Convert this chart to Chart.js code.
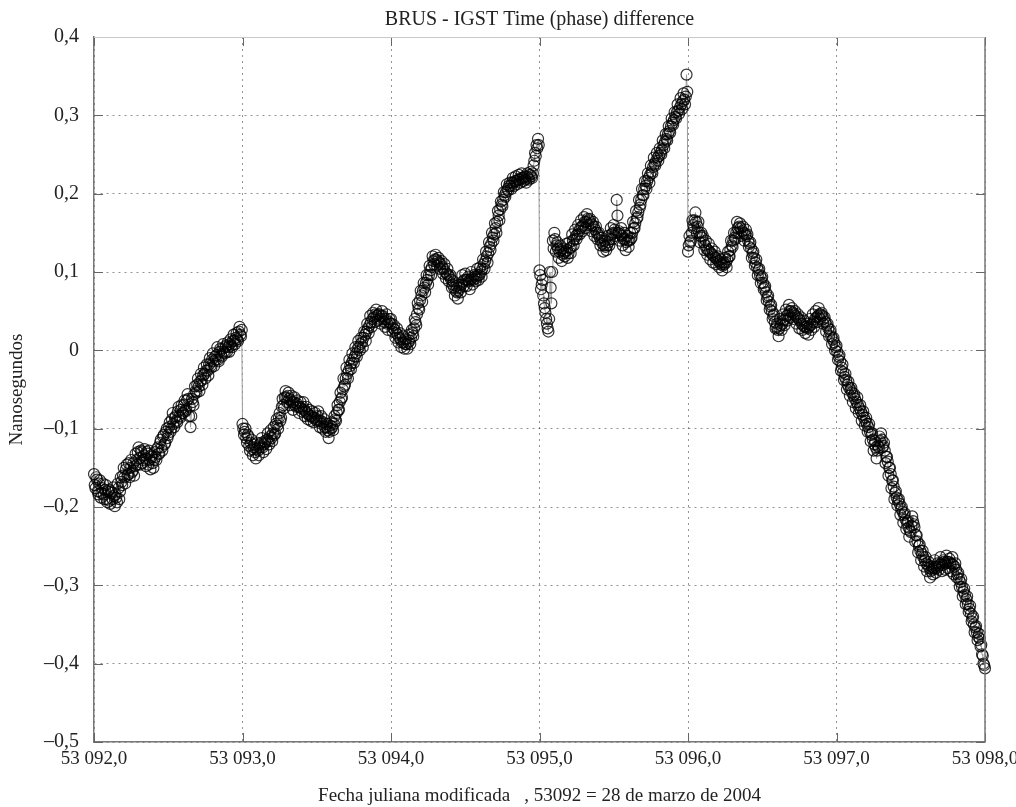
<!DOCTYPE html>
<html>
<head>
<meta charset="utf-8">
<script src="https://cdn.jsdelivr.net/npm/chart.js@4/dist/chart.umd.min.js"></script>
<style>
  html, body { margin: 0; padding: 0; background: #ffffff; }
  #wrap { width: 1016px; height: 807px; }
</style>
</head>
<body>
<div id="wrap"><canvas id="c" width="1016" height="807"></canvas></div>
<script>
// ---- Data ----
const sampleStep = 0.01;      // days between samples of one set
const halfStepOffset = 0.005; // second set of samples, between the first ones
const dayStarts = [53092, 53093, 53094, 53095, 53096, 53097];

// samples at start + i*step
const day53092 = [
  -0.158,-0.176,-0.165,-0.184,-0.166,-0.182,-0.170,-0.190,-0.172,-0.194,
  -0.178,-0.196,-0.182,-0.175,-0.199,-0.188,-0.170,-0.190,-0.162,-0.172,
  -0.150,-0.170,-0.146,-0.158,-0.162,-0.140,-0.154,-0.160,-0.132,-0.146,
  -0.124,-0.146,-0.130,-0.140,-0.126,-0.148,-0.132,-0.128,-0.152,-0.136,
  -0.150,-0.130,-0.140,-0.124,-0.132,-0.114,-0.128,-0.108,-0.118,-0.100,
  -0.108,-0.092,-0.100,-0.080,-0.098,-0.084,-0.092,-0.072,-0.086,-0.070,
  -0.080,-0.064,-0.076,-0.056,-0.084,-0.098,-0.062,-0.070,-0.046,-0.054,
  -0.036,-0.052,-0.030,-0.044,-0.022,-0.036,-0.018,-0.032,-0.010,-0.022,
  -0.004,-0.020,-0.012,0.004,-0.014,0.002,-0.008,0.008,-0.004,0.006,
  0.010,-0.002,0.014,0.004,0.020,0.008,0.022,0.012,0.030,0.018
];
const day53093 = [
  -0.094,-0.108,-0.100,-0.118,-0.110,-0.128,-0.114,-0.134,-0.120,-0.138,
  -0.118,-0.134,-0.124,-0.112,-0.130,-0.116,-0.126,-0.106,-0.120,-0.102,
  -0.116,-0.098,-0.106,-0.088,-0.100,-0.080,-0.086,-0.062,-0.074,-0.052,
  -0.066,-0.054,-0.070,-0.058,-0.076,-0.060,-0.072,-0.064,-0.080,-0.066,
  -0.078,-0.066,-0.084,-0.072,-0.088,-0.076,-0.090,-0.078,-0.092,-0.080,
  -0.090,-0.078,-0.098,-0.084,-0.100,-0.088,-0.104,-0.094,-0.112,-0.096,
  -0.092,-0.102,-0.084,-0.090,-0.070,-0.076,-0.054,-0.060,-0.036,-0.044,
  -0.022,-0.036,-0.012,-0.024,-0.004,-0.016,0.004,-0.008,0.012,0.000,
  0.016,0.004,0.024,0.012,0.034,0.022,0.044,0.030,0.048,0.036,
  0.052,0.038,0.046,0.034,0.050,0.040,0.030,0.046,0.026,0.040
];
const day53094 = [
  0.040,0.024,0.032,0.016,0.028,0.010,0.022,0.004,0.018,0.002,
  0.014,0.002,0.020,0.008,0.026,0.018,0.040,0.032,0.060,0.052,
  0.076,0.062,0.086,0.074,0.096,0.084,0.108,0.096,0.120,0.110,
  0.122,0.108,0.118,0.104,0.114,0.098,0.110,0.092,0.104,0.088,
  0.096,0.080,0.088,0.070,0.082,0.066,0.084,0.074,0.096,0.082,
  0.098,0.082,0.094,0.078,0.100,0.084,0.096,0.088,0.104,0.090,
  0.106,0.094,0.116,0.104,0.126,0.112,0.138,0.128,0.150,0.140,
  0.162,0.150,0.178,0.166,0.190,0.184,0.202,0.196,0.212,0.204,
  0.214,0.206,0.220,0.210,0.222,0.212,0.224,0.214,0.226,0.216,
  0.222,0.214,0.226,0.218,0.228,0.220,0.236,0.252,0.262,0.270
];
const day53095 = [
  0.102,0.078,0.090,0.060,0.048,0.034,0.024,0.100,0.060,0.140,
  0.150,0.126,0.138,0.118,0.134,0.114,0.130,0.120,0.136,0.118,
  0.138,0.124,0.148,0.134,0.154,0.142,0.160,0.148,0.166,0.152,
  0.170,0.156,0.174,0.160,0.168,0.152,0.164,0.146,0.158,0.142,
  0.150,0.134,0.144,0.126,0.140,0.128,0.146,0.134,0.156,0.142,
  0.160,0.146,0.192,0.150,0.140,0.156,0.134,0.150,0.128,0.146,
  0.132,0.150,0.144,0.164,0.156,0.178,0.170,0.192,0.186,0.206,
  0.198,0.216,0.206,0.226,0.214,0.236,0.226,0.246,0.236,0.252,
  0.242,0.258,0.250,0.268,0.258,0.276,0.268,0.286,0.278,0.296,
  0.288,0.304,0.296,0.314,0.302,0.322,0.308,0.328,0.314,0.352
];
const day53096 = [
  0.126,0.146,0.140,0.166,0.156,0.176,0.150,0.164,0.138,0.150,
  0.146,0.128,0.140,0.122,0.136,0.116,0.130,0.112,0.126,0.110,
  0.120,0.106,0.116,0.102,0.112,0.118,0.106,0.126,0.120,0.140,
  0.132,0.150,0.142,0.164,0.150,0.162,0.146,0.158,0.140,0.154,
  0.148,0.132,0.138,0.118,0.126,0.108,0.116,0.096,0.104,0.086,
  0.094,0.078,0.082,0.064,0.070,0.052,0.058,0.040,0.046,0.028,
  0.034,0.018,0.040,0.026,0.046,0.032,0.052,0.038,0.058,0.042,
  0.054,0.040,0.050,0.034,0.046,0.028,0.042,0.026,0.038,0.022,
  0.034,0.020,0.040,0.026,0.046,0.030,0.050,0.036,0.054,0.040,
  0.048,0.034,0.042,0.024,0.034,0.018,0.026,0.008,0.016,0.000
];
const day53097 = [
  0.006,-0.012,-0.006,-0.026,-0.018,-0.038,-0.030,-0.050,-0.040,-0.058,
  -0.048,-0.066,-0.056,-0.074,-0.060,-0.080,-0.070,-0.090,-0.078,-0.096,
  -0.086,-0.104,-0.094,-0.116,-0.106,-0.128,-0.116,-0.138,-0.122,-0.110,
  -0.106,-0.124,-0.118,-0.144,-0.136,-0.160,-0.150,-0.176,-0.166,-0.190,
  -0.180,-0.198,-0.190,-0.210,-0.200,-0.220,-0.208,-0.228,-0.218,-0.238,
  -0.232,-0.212,-0.222,-0.244,-0.236,-0.258,-0.248,-0.268,-0.256,-0.276,
  -0.264,-0.282,-0.270,-0.290,-0.276,-0.286,-0.268,-0.284,-0.272,-0.280,
  -0.264,-0.282,-0.268,-0.280,-0.262,-0.278,-0.266,-0.282,-0.264,-0.286,
  -0.272,-0.290,-0.284,-0.302,-0.292,-0.314,-0.304,-0.324,-0.314,-0.334,
  -0.326,-0.346,-0.340,-0.360,-0.352,-0.370,-0.362,-0.378,-0.388,-0.400,
  -0.406
];

// samples at start + i*step + halfStepOffset
const mid53092 = [
  -0.172,-0.162,-0.180,-0.170,-0.188,-0.176,-0.184,-0.178,-0.190,-0.180,
  -0.192,-0.180,-0.190,-0.186,-0.184,-0.194,-0.176,-0.180,-0.168,-0.160,
  -0.162,-0.152,-0.160,-0.144,-0.150,-0.156,-0.144,-0.148,-0.140,-0.130,
  -0.138,-0.128,-0.144,-0.134,-0.138,-0.130,-0.146,-0.140,-0.134,-0.144,
  -0.140,-0.136,-0.126,-0.132,-0.118,-0.124,-0.110,-0.120,-0.104,-0.112,
  -0.098,-0.104,-0.088,-0.094,-0.086,-0.090,-0.078,-0.084,-0.076,-0.080,
  -0.070,-0.078,-0.064,-0.062,-0.072,-0.084,-0.066,-0.056,-0.052,-0.044,
  -0.046,-0.040,-0.038,-0.032,-0.030,-0.026,-0.026,-0.018,-0.020,-0.012,
  -0.014,-0.008,-0.006,-0.012,-0.002,-0.006,0.002,-0.002,0.004,-0.002,
  0.004,0.008,0.006,0.012,0.012,0.016,0.014,0.024,0.020,0.026
];
const mid53093 = [
  -0.100,-0.104,-0.112,-0.108,-0.122,-0.118,-0.126,-0.124,-0.130,-0.126,
  -0.128,-0.120,-0.118,-0.124,-0.120,-0.118,-0.114,-0.116,-0.110,-0.112,
  -0.106,-0.108,-0.094,-0.096,-0.086,-0.090,-0.072,-0.070,-0.060,-0.060,
  -0.058,-0.062,-0.064,-0.066,-0.066,-0.070,-0.068,-0.072,-0.072,-0.074,
  -0.072,-0.076,-0.078,-0.080,-0.082,-0.084,-0.084,-0.086,-0.086,-0.088,
  -0.084,-0.090,-0.090,-0.094,-0.092,-0.098,-0.098,-0.102,-0.104,-0.100,
  -0.098,-0.094,-0.088,-0.080,-0.076,-0.066,-0.062,-0.050,-0.046,-0.036,
  -0.030,-0.026,-0.020,-0.016,-0.012,-0.008,-0.004,0.002,0.004,0.008,
  0.010,0.016,0.020,0.024,0.028,0.032,0.036,0.040,0.042,0.046,
  0.044,0.046,0.040,0.044,0.044,0.036,0.040,0.034,0.036,0.034
];
const mid53094 = [
  0.034,0.028,0.026,0.022,0.020,0.016,0.014,0.010,0.010,0.008,
  0.008,0.010,0.012,0.016,0.022,0.028,0.036,0.046,0.054,0.064,
  0.070,0.076,0.080,0.086,0.090,0.096,0.102,0.106,0.114,0.116,
  0.116,0.114,0.112,0.110,0.106,0.104,0.100,0.098,0.096,0.094,
  0.090,0.084,0.080,0.076,0.074,0.076,0.080,0.084,0.088,0.090,
  0.090,0.090,0.088,0.090,0.092,0.090,0.094,0.092,0.096,0.096,
  0.100,0.104,0.110,0.114,0.120,0.124,0.132,0.136,0.144,0.148,
  0.156,0.164,0.172,0.180,0.186,0.192,0.198,0.202,0.206,0.210,
  0.210,0.214,0.214,0.216,0.216,0.218,0.218,0.220,0.220,0.220,
  0.218,0.222,0.220,0.224,0.222,0.226,0.242,0.248,0.258,0.262
];
const mid53095 = [
  0.096,0.084,0.070,0.054,0.040,0.028,0.040,0.080,0.100,0.130,
  0.142,0.134,0.130,0.126,0.128,0.122,0.124,0.126,0.128,0.124,
  0.130,0.132,0.140,0.142,0.146,0.148,0.152,0.156,0.158,0.160,
  0.164,0.164,0.168,0.166,0.162,0.160,0.158,0.154,0.150,0.148,
  0.144,0.140,0.136,0.134,0.132,0.134,0.138,0.142,0.148,0.150,
  0.154,0.150,0.172,0.152,0.148,0.146,0.142,0.142,0.138,0.140,
  0.140,0.142,0.150,0.156,0.162,0.168,0.176,0.182,0.192,0.198,
  0.206,0.210,0.216,0.220,0.224,0.228,0.234,0.238,0.242,0.246,
  0.248,0.252,0.256,0.262,0.266,0.270,0.276,0.280,0.286,0.290,
  0.294,0.298,0.304,0.306,0.310,0.314,0.318,0.320,0.324,0.330
];
const mid53096 = [
  0.134,0.138,0.150,0.160,0.166,0.164,0.158,0.150,0.146,0.144,
  0.138,0.134,0.130,0.128,0.126,0.124,0.122,0.120,0.118,0.116,
  0.114,0.112,0.110,0.108,0.110,0.112,0.116,0.120,0.128,0.134,
  0.140,0.144,0.150,0.156,0.158,0.156,0.152,0.150,0.148,0.146,
  0.140,0.136,0.130,0.124,0.118,0.112,0.106,0.102,0.096,0.092,
  0.086,0.080,0.074,0.068,0.062,0.056,0.050,0.044,0.036,0.030,
  0.026,0.028,0.032,0.034,0.038,0.040,0.044,0.046,0.050,0.050,
  0.048,0.046,0.044,0.042,0.040,0.038,0.034,0.032,0.030,0.030,
  0.028,0.030,0.032,0.034,0.036,0.040,0.042,0.044,0.046,0.046,
  0.044,0.040,0.036,0.032,0.028,0.024,0.018,0.014,0.010,0.004
];
const mid53097 = [
  -0.002,-0.008,-0.014,-0.022,-0.028,-0.034,-0.038,-0.044,-0.048,-0.050,
  -0.054,-0.058,-0.062,-0.066,-0.070,-0.074,-0.078,-0.082,-0.086,-0.090,
  -0.094,-0.098,-0.104,-0.108,-0.114,-0.120,-0.124,-0.128,-0.124,-0.116,
  -0.114,-0.122,-0.128,-0.136,-0.142,-0.150,-0.158,-0.166,-0.174,-0.182,
  -0.188,-0.192,-0.196,-0.202,-0.206,-0.210,-0.216,-0.220,-0.226,-0.230,
  -0.224,-0.218,-0.226,-0.236,-0.244,-0.250,-0.256,-0.260,-0.264,-0.268,
  -0.272,-0.274,-0.278,-0.282,-0.280,-0.278,-0.276,-0.278,-0.276,-0.274,
  -0.272,-0.274,-0.270,-0.272,-0.270,-0.270,-0.272,-0.272,-0.274,-0.276,
  -0.280,-0.286,-0.292,-0.296,-0.302,-0.308,-0.312,-0.318,-0.324,-0.330,
  -0.336,-0.342,-0.350,-0.354,-0.360,-0.366,-0.368,-0.376,-0.390,-0.402
];

const dayValues = [day53092, day53093, day53094, day53095, day53096, day53097];
const midValues = [mid53092, mid53093, mid53094, mid53095, mid53096, mid53097];

const xTickValues = [53092, 53093, 53094, 53095, 53096, 53097, 53098];
const xTickLabels = ['53 092,0','53 093,0','53 094,0','53 095,0','53 096,0','53 097,0','53 098,0'];
const yTickValues = [-0.5,-0.4,-0.3,-0.2,-0.1,0,0.1,0.2,0.3,0.4];
const yTickLabels = ['–0,5','–0,4','–0,3','–0,2','–0,1','0','0,1','0,2','0,3','0,4'];

const titleText = 'BRUS - IGST Time (phase) difference';
const xTitleText = 'Fecha juliana modificada   , 53092 = 28 de marzo de 2004';
const yTitleText = 'Nanosegundos';

// ---- Build points (regular sampling in time) ----
const points = [];
dayValues.forEach((vals, d) => {
  vals.forEach((v, i) => points.push({ x: dayStarts[d] + i * sampleStep, y: v }));
});
midValues.forEach((vals, d) => {
  vals.forEach((v, i) => points.push({ x: dayStarts[d] + i * sampleStep + halfStepOffset, y: v }));
});
points.sort((a, b) => a.x - b.x);

const FONT = "'Liberation Serif', 'Times New Roman', serif";

const frameTicks = {
  id: 'frameTicks',
  afterDraw(chart) {
    const { ctx, chartArea: a, scales: { x, y } } = chart;
    ctx.save();
    ctx.strokeStyle = '#666';
    ctx.lineWidth = 1;
    ctx.setLineDash([]);
    ctx.beginPath();
    xTickValues.forEach(v => {
      const px = Math.round(x.getPixelForValue(v)) + 0.5;
      ctx.moveTo(px, a.bottom); ctx.lineTo(px, a.bottom - 9);
      ctx.moveTo(px, a.top); ctx.lineTo(px, a.top + 9);
    });
    yTickValues.forEach(v => {
      const py = Math.round(y.getPixelForValue(v)) + 0.5;
      ctx.moveTo(a.left, py); ctx.lineTo(a.left + 9, py);
      ctx.moveTo(a.right, py); ctx.lineTo(a.right - 9, py);
    });
    ctx.stroke();
    ctx.strokeStyle = '#777';
    ctx.lineWidth = 1.5;
    ctx.beginPath();
    ctx.moveTo(a.right, a.top); ctx.lineTo(a.right, a.bottom);
    ctx.stroke();
    ctx.strokeStyle = '#c8c8c8';
    ctx.lineWidth = 1;
    ctx.beginPath();
    ctx.moveTo(a.left, a.top + 0.5); ctx.lineTo(a.right, a.top + 0.5);
    ctx.stroke();
    ctx.restore();
  }
};

new Chart(document.getElementById('c'), {
  type: 'line',
  data: {
    datasets: [{
      data: points,
      borderColor: '#9a9a9a',
      borderWidth: 1,
      pointStyle: 'circle',
      pointRadius: 5.5,
      pointBorderWidth: 1.2,
      pointBorderColor: 'rgba(0,0,0,0.8)',
      pointBackgroundColor: 'rgba(0,0,0,0)',
      tension: 0,
      clip: false
    }]
  },
  options: {
    responsive: false,
    devicePixelRatio: 1,
    animation: false,
    events: [],
    layout: { padding: { left: 0, right: 31, top: 0, bottom: 0 } },
    plugins: {
      legend: { display: false },
      tooltip: { enabled: false },
      title: {
        display: true,
        text: titleText,
        fullSize: false,
        color: '#222',
        font: { family: FONT, size: 20, weight: 'normal', lineHeight: 1.2 },
        padding: { top: 8, bottom: 5 }
      }
    },
    scales: {
      x: {
        type: 'linear',
        min: 53092,
        max: 53098,
        afterBuildTicks(s) { s.ticks = xTickValues.map(v => ({ value: v })); },
        ticks: {
          autoSkip: false,
          maxRotation: 0,
          padding: 6,
          color: '#222',
          font: { family: FONT, size: 19 },
          callback(v) { const i = xTickValues.indexOf(v); return i >= 0 ? xTickLabels[i] : ''; }
        },
        grid: {
          drawTicks: false,
          color: 'rgba(0,0,0,0.42)',
          lineWidth: 1
        },
        border: { display: true, color: '#777', width: 1.5, dash: [2, 4] },
        title: {
          display: true,
          text: xTitleText,
          color: '#222',
          font: { family: FONT, size: 19, lineHeight: 1.2 },
          padding: { top: 0, bottom: 0 }
        },
        afterFit(s) { s.height = 65; s.paddingLeft = 0; s.paddingRight = 0; }
      },
      y: {
        type: 'linear',
        min: -0.5,
        max: 0.4,
        afterBuildTicks(s) { s.ticks = yTickValues.map(v => ({ value: v })); },
        ticks: {
          padding: 15,
          color: '#222',
          font: { family: FONT, size: 20 },
          callback(v) {
            const k = Math.round(v * 10);
            const i = yTickValues.findIndex(t => Math.round(t * 10) === k);
            return i >= 0 ? yTickLabels[i] : '';
          }
        },
        grid: {
          drawTicks: false,
          color: 'rgba(0,0,0,0.42)',
          lineWidth: 1
        },
        border: { display: true, color: '#777', width: 1.5, dash: [2, 4] },
        title: {
          display: true,
          text: yTitleText,
          color: '#222',
          font: { family: FONT, size: 19, lineHeight: 1.2 },
          padding: { top: 6, bottom: 0 }
        },
        afterFit(s) { s.width = 94; s.paddingTop = 0; s.paddingBottom = 0; }
      }
    }
  },
  plugins: [frameTicks]
});
</script>
</body>
</html>
